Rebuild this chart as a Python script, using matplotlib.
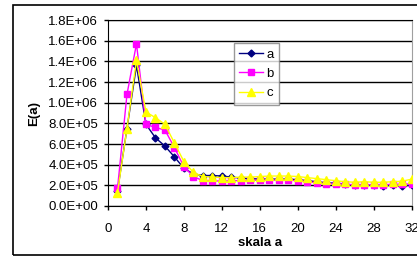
import matplotlib.pyplot as plt
from matplotlib.patches import Rectangle
from matplotlib.ticker import FuncFormatter

plt.rcParams['font.family'] = ['Liberation Sans', 'DejaVu Sans']

# skala a = 1..32
skala = list(range(1, 33))

a = [1.45e5, 7.5e5, 1.36e6, 7.9e5, 6.6e5, 5.8e5, 4.75e5, 3.65e5, 3.1e5, 2.95e5,
     2.95e5, 2.9e5, 2.8e5, 2.7e5, 2.65e5, 2.6e5, 2.6e5, 2.6e5, 2.6e5, 2.55e5,
     2.45e5, 2.35e5, 2.25e5, 2.2e5, 2.1e5, 2.0e5, 2.05e5, 2.0e5, 1.95e5, 2.0e5,
     1.95e5, 2.0e5]
b = [1.7e5, 1.08e6, 1.57e6, 7.9e5, 7.6e5, 7.35e5, 5.65e5, 3.8e5, 2.85e5, 2.45e5,
     2.45e5, 2.4e5, 2.45e5, 2.45e5, 2.5e5, 2.5e5, 2.5e5, 2.5e5, 2.5e5, 2.45e5,
     2.35e5, 2.25e5, 2.15e5, 2.15e5, 2.1e5, 2.05e5, 2.05e5, 2.05e5, 2.05e5, 2.1e5,
     2.1e5, 2.15e5]
c = [1.3e5, 7.5e5, 1.41e6, 9.1e5, 8.55e5, 7.9e5, 6.1e5, 4.3e5, 3.25e5, 2.85e5,
     2.8e5, 2.75e5, 2.75e5, 2.8e5, 2.8e5, 2.85e5, 2.9e5, 2.9e5, 2.9e5, 2.85e5,
     2.75e5, 2.65e5, 2.55e5, 2.45e5, 2.35e5, 2.3e5, 2.35e5, 2.3e5, 2.3e5, 2.35e5,
     2.4e5, 2.6e5]

fig = plt.figure(figsize=(4.17, 2.57), dpi=100)
ax = fig.add_axes([108/417, 1 - 206/257, (411.7 - 108)/417, (206 - 20)/257])

# outer chart border
fig.patches.append(Rectangle((13/417, 2/257), 1.2, 250/257, transform=fig.transFigure,
                             fill=False, edgecolor='black', lw=1.2, clip_on=False))

ax.plot(skala, a, color='#000080', marker='D', ms=3.5, lw=1, label='a', zorder=3)
ax.plot(skala, b, color='#FF00FF', marker='s', ms=4.5, lw=1, label='b', zorder=4)
ax.plot(skala, c, color='#FFFF00', marker='^', ms=5.5, lw=1, label='c', zorder=5)

ax.set_xlim(0, 32)
ax.set_ylim(0, 1.8e6)
ax.set_xticks(range(0, 33, 4))
ax.set_yticks([i * 2e5 for i in range(10)])
ax.yaxis.set_major_formatter(FuncFormatter(lambda v, p: f"{v:.1E}"))
ax.grid(axis='y', color='black', lw=1)
ax.set_axisbelow(True)
ax.tick_params(direction='out', length=3, width=1, labelsize=9.5, pad=4)
ax.tick_params(axis='x', pad=9)

ax.spines['right'].set_color('#a0a0a0')

ax.set_xlabel('skala a', fontweight='bold', fontsize=9.5, labelpad=2)
ax.set_ylabel('E(a)', fontweight='bold', fontsize=9.5, labelpad=6)

leg = ax.legend(loc='upper left', bbox_to_anchor=(234/417, 1 - 43/257),
                bbox_transform=fig.transFigure, fontsize=9.5, frameon=True,
                fancybox=False, edgecolor='#808080', handlelength=1.8,
                handletextpad=0.25, borderpad=0.4, labelspacing=0.55,
                borderaxespad=0)
leg.get_frame().set_linewidth(1)

fig.savefig('out.png', dpi=100)
